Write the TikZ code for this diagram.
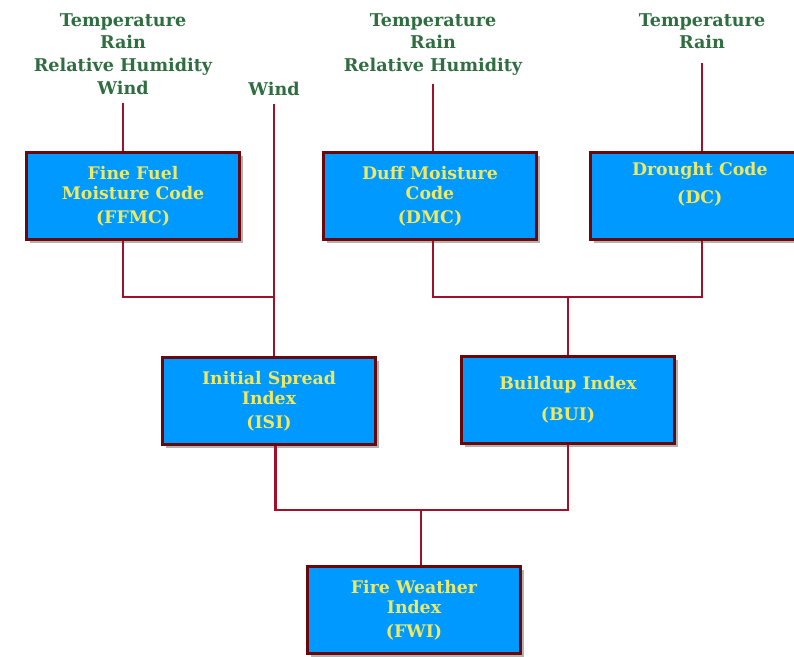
\documentclass[tikz,border=0pt]{standalone}
\usepackage{fontspec}
\setmainfont{DejaVu Serif}
\usepackage{tikz}
\usetikzlibrary{positioning, shadows}
\definecolor{boxblue}{RGB}{0,153,255}
\definecolor{boxrim}{RGB}{105,8,12}
\definecolor{wirered}{RGB}{160,16,45}
\definecolor{inputgreen}{RGB}{48,110,66}
\definecolor{codeyellow}{RGB}{240,232,96}
\tikzset{
  code/.style={rectangle, draw=boxrim, line width=2.2pt, fill=boxblue,
               minimum width=160pt, minimum height=65pt, align=center,
               text=codeyellow, font=\fontsize{13}{15.5}\selectfont\bfseries,
               drop shadow={shadow xshift=2.5pt, shadow yshift=-2.5pt, fill=black, opacity=0.3}},
  input/.style={align=center, text=inputgreen, inner sep=6pt,
                font=\fontsize{13.2}{17}\selectfont\bfseries},
  wire/.style={draw=wirered, line width=2.1pt},
}

\begin{document}
\begin{tikzpicture}[x=0.75pt, y=-0.75pt]
  \useasboundingbox (0,0) rectangle (794,657);
  \clip (0,0) rectangle (794,657);

  % weather inputs
  \node[input, anchor=north] (ffmcin) at (123,5) {Temperature\\Rain\\Relative Humidity\\Wind};
  \node[input, anchor=north] (windin) at (274,74) {Wind};
  \node[input, anchor=north] (dmcin) at (433,5) {Temperature\\Rain\\Relative Humidity};
  \node[input, anchor=north] (dcin) at (702,5) {Temperature\\Rain};

  % moisture codes
  \node[code] (ffmc) at (133,196) {Fine Fuel\\Moisture Code\\[2pt](FFMC)};
  \node[code] (dmc) at (430,196) {Duff Moisture\\Code\\[2pt](DMC)};
  \node[code, minimum width=164pt, anchor=west] (dc) at (589,196) {Drought Code\\[5pt](DC)\\[4pt]~};

  % fire behaviour indices
  \node[code] (isi) at (269,401) {Initial Spread\\Index\\[2pt](ISI)};
  \node[code] (bui) at (568,400) {Buildup Index\\[8pt](BUI)};
  \node[code] (fwi) at (414,610) {Fire Weather\\Index\\[2pt](FWI)};

  \coordinate (j1) at (windin.south |- 0,297);
  \coordinate (j2) at (bui.north |- 0,297);
  \coordinate (j3) at (421,510);

  \draw[wire] (ffmcin.south) -- (ffmcin.south |- ffmc.north);
  \draw[wire] (windin.south) -- (windin.south |- isi.north);
  \draw[wire] (dmcin.south) -- (dmcin.south |- dmc.north);
  \draw[wire] ([yshift=-4pt]dcin.south) -- (dcin.south |- dc.north);

  \draw[wire] (ffmcin.south |- ffmc.south) |- (j1);
  \draw[wire] (dmcin.south |- dmc.south) |- (j2) -| (dcin.south |- dc.south);
  \draw[wire] (j2) -- (bui.north);
  \draw[wire] ([xshift=5pt]isi.south) |- (j3) -| (bui.south);
  \draw[wire] (j3) -- (j3 |- fwi.north);
\end{tikzpicture}
\end{document}
